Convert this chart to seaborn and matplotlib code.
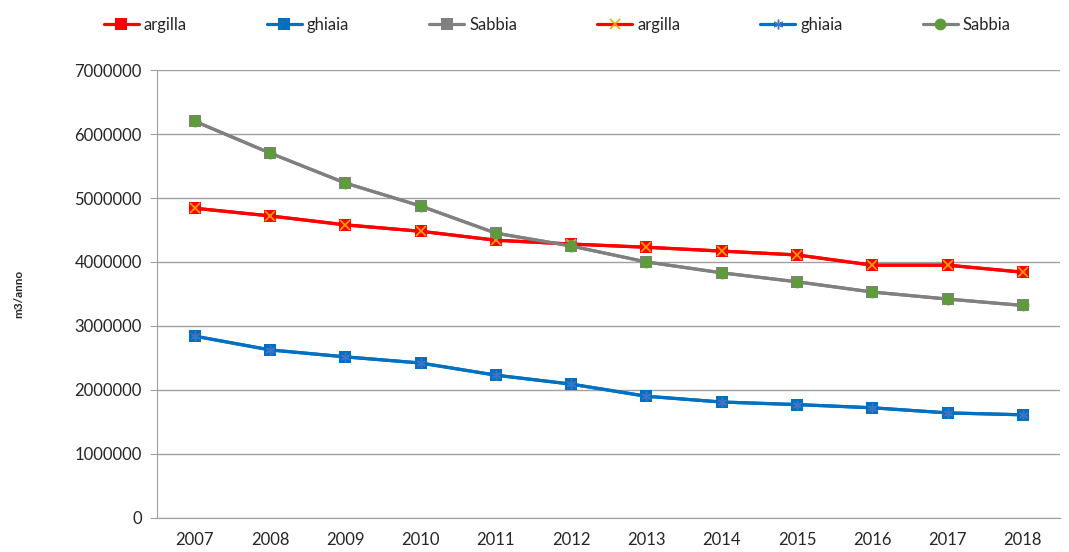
import numpy as np
import pandas as pd
import matplotlib.pyplot as plt
import seaborn as sns

anni = [2007, 2008, 2009, 2010, 2011, 2012, 2013, 2014, 2015, 2016, 2017, 2018]
argilla = [4840000, 4720000, 4580000, 4480000, 4340000, 4280000, 4230000, 4170000, 4110000, 3950000, 3950000, 3840000]
ghiaia = [2840000, 2625000, 2516000, 2420000, 2230000, 2090000, 1900000, 1810000, 1770000, 1720000, 1640000, 1610000]
sabbia = [6200000, 5703000, 5234000, 4875000, 4450000, 4250000, 4000000, 3830000, 3690000, 3530000, 3420000, 3320000]

sns.set_style("white")
plt.rcParams['font.family'] = ['Lato', 'DejaVu Sans']

df = pd.DataFrame({"anno": anni, "argilla": argilla, "ghiaia": ghiaia, "Sabbia": sabbia})

fig, ax = plt.subplots(figsize=(10.69, 5.52), dpi=100)
fig.subplots_adjust(left=0.147, right=0.992, top=0.873, bottom=0.062)

# prima serie: quadrati
colori = {"argilla": "#FF0000", "ghiaia": "#0070C0", "Sabbia": "#808080"}
for nome, col in colori.items():
    sns.lineplot(data=df, x="anno", y=nome, ax=ax, color=col, linewidth=2.3,
                 marker="s", markersize=8, markeredgewidth=0, label=nome)

# seconda serie sovrapposta
sns.lineplot(data=df, x="anno", y="argilla", ax=ax, color="#FF0000", linewidth=2.3,
             marker="x", markersize=7, markeredgecolor="#FFA500", markeredgewidth=1.2,
             label="argilla")
sns.lineplot(data=df, x="anno", y="ghiaia", ax=ax, color="#0070C0", linewidth=2.3,
             marker=(6, 2, 0), markersize=7, markeredgecolor="#4472C4",
             markeredgewidth=1.0, label="ghiaia")
sns.lineplot(data=df, x="anno", y="Sabbia", ax=ax, color="#808080", linewidth=2.3,
             marker="o", markersize=8.5, markerfacecolor="#5E9B3A", markeredgecolor="#5E9B3A",
             markeredgewidth=0, label="Sabbia")

ax.set_xlim(anni[0] - 0.5, anni[-1] + 0.5)
ax.set_ylim(0, 7000000)
ax.set_yticks(np.arange(0, 7000001, 1000000))
ax.set_yticklabels([str(v) for v in range(0, 7000001, 1000000)], fontsize=12)
ax.set_xticks(anni)
ax.set_xticklabels([str(a) for a in anni], fontsize=12)
ax.set_xticks(np.arange(anni[0] - 0.5, anni[-1] + 0.6, 1), minor=True)
ax.tick_params(axis="x", which="major", length=0, pad=10)
ax.tick_params(axis="x", which="minor", length=5, color="#A0A0A0", direction="out")
ax.tick_params(axis="y", length=5, color="#A0A0A0", direction="out", left=True, pad=6)

ax.grid(axis="y", color="#A0A0A0", linewidth=1)
ax.set_axisbelow(True)
for s in ["top", "right"]:
    ax.spines[s].set_visible(False)
ax.spines["left"].set_color("#A0A0A0")
ax.spines["bottom"].set_color("#A0A0A0")

ax.set_xlabel("")
ax.set_ylabel("m3/anno", fontsize=8.5, fontweight="bold", labelpad=36)

handles, labels = ax.get_legend_handles_labels()
ax.get_legend().remove()
fig.legend(handles, labels, loc="center left", bbox_to_anchor=(0.083, 0.955), ncol=6,
           frameon=False, fontsize=12, columnspacing=4.8, handlelength=2.1,
           handletextpad=0.3)

fig.savefig("out.png", dpi=100)
